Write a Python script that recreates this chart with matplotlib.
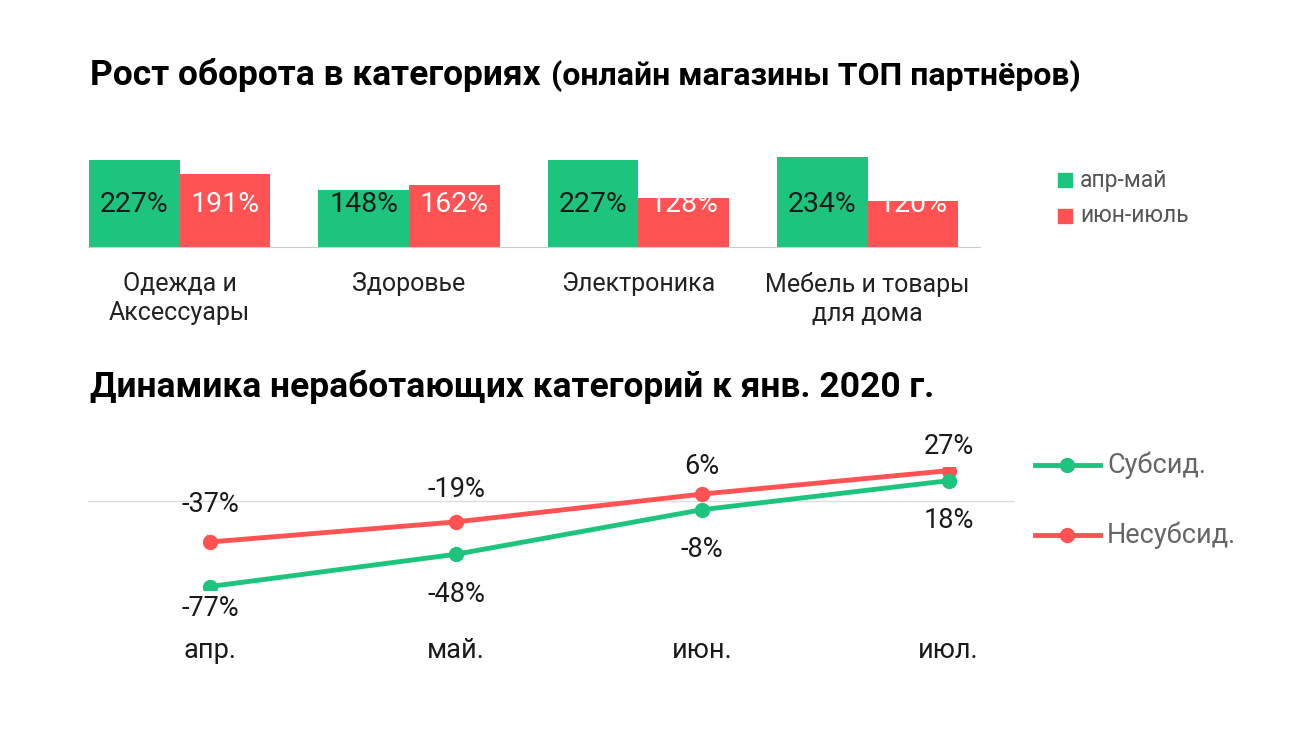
import matplotlib
matplotlib.use("Agg")
import matplotlib.pyplot as plt
from matplotlib.lines import Line2D
from matplotlib.patches import Rectangle

plt.rcParams['font.family'] = ['Roboto', 'DejaVu Sans']

categories = ["Одежда и\nАксессуары", "Здоровье", "Электроника", "Мебель и товары\nдля дома"]
apr_may = [227, 148, 227, 234]
jun_jul = [191, 162, 128, 120]
bar_series = ["апр-май", "июн-июль"]

months = ["апр.", "май.", "июн.", "июл."]
subsid = [-77, -48, -8, 18]
nonsubsid = [-37, -19, 6, 27]
line_series = ["Субсид.", "Несубсид."]

GREEN = "#1DC47E"
RED = "#FF5252"
W, H = 1300, 731
fig = plt.figure(figsize=(13, 7.31), dpi=100)

def fx(px): return px / W
def fy(py): return 1 - py / H

fig.text(fx(90), fy(75), "Рост оборота в категориях", fontsize=25.5, fontweight="bold", va="center", ha="left")
fig.text(fx(551), fy(76), "(онлайн магазины ТОП партнёров)", fontsize=23, fontweight="bold", va="center", ha="left")
fig.text(fx(90), fy(387), "Динамика неработающих категорий к янв. 2020 г.", fontsize=25.5, fontweight="bold", va="center", ha="left")

# Bar chart
ax = fig.add_axes([fx(88), fy(247), fx(980 - 88), 96 / H])
x = list(range(len(categories)))
bw = 0.395
b1 = ax.bar([i - bw / 2 for i in x], apr_may, bw, color=GREEN)
b2 = ax.bar([i + bw / 2 for i in x], jun_jul, bw, color=RED)
for bars, vals, col in ((b1, apr_may, "#1a1a1a"), (b2, jun_jul, "white")):
    for b, v in zip(bars, vals):
        ax.text(b.get_x() + b.get_width() / 2, 110, f"{v}%", ha="center", va="center", fontsize=20.5, color=col)
ax.set_xlim(-0.4, 3.49)
ax.set_ylim(0, 250)
ax.set_xticks(x)
ax.set_xticklabels(categories, fontsize=18, color="#222", linespacing=1.25, va="top")
ax.tick_params(axis="x", length=0, pad=18)
ax.set_yticks([])
for s in ["top", "right", "left"]:
    ax.spines[s].set_visible(False)
ax.spines["bottom"].set_color("#cccccc")
for i, (lab, col) in enumerate(zip(bar_series, [GREEN, RED])):
    yy = 180 + 36 * i
    fig.patches.append(Rectangle((fx(1058), fy(yy + 7)), 14 / W, 14 / H, color=col, transform=fig.transFigure))
    fig.text(fx(1080), fy(yy), lab, fontsize=16.5, color="#555", va="center", ha="left")

# Line chart
ax2 = fig.add_axes([fx(88), fy(589.9), fx(1015 - 88), 122.6 / H])
xs = list(range(len(months)))
ax2.axhline(0, color="#dddddd", lw=1, zorder=0)
ax2.plot(xs, nonsubsid, color=RED, lw=3.5, marker="o", ms=10, zorder=3)
ax2.plot(xs, subsid, color=GREEN, lw=3.5, marker="o", ms=10, zorder=3)
up_off = [37, 32, 28, 24]
dn_off = [22, 40, 40, 40]
for i in xs:
    ax2.annotate(f"{nonsubsid[i]}%", (i, nonsubsid[i]), xytext=(0, up_off[i]), textcoords="offset pixels",
                 ha="center", va="center", fontsize=19.5, color="#1a1a1a")
    ax2.annotate(f"{subsid[i]}%", (i, subsid[i]), xytext=(0, -dn_off[i]), textcoords="offset pixels",
                 ha="center", va="center", fontsize=19.5, color="#1a1a1a")
ax2.plot([0, -0.01], [-37, -31], color="#999", lw=1, zorder=2)
ax2.set_xlim(-0.495, 3.27)
ax2.set_ylim(-80, 30)
ax2.set_xticks(xs)
ax2.set_xticklabels(months, fontsize=19.5, color="#1a1a1a")
ax2.tick_params(axis="x", length=0, pad=34)
ax2.set_yticks([])
for s in ax2.spines.values():
    s.set_visible(False)
for i, (lab, col) in enumerate(zip(line_series, [GREEN, RED])):
    yy = 465 + 70 * i
    fig.lines.append(Line2D([fx(1035), fx(1100)], [fy(yy), fy(yy)], color=col, lw=3.5, transform=fig.transFigure))
    fig.lines.append(Line2D([fx(1067)], [fy(yy)], color=col, marker="o", ms=10, transform=fig.transFigure))
    fig.text(fx(1107), fy(yy), lab, fontsize=19.5, color="#666", va="center", ha="left")

fig.savefig("out.png", dpi=100, facecolor="white")
